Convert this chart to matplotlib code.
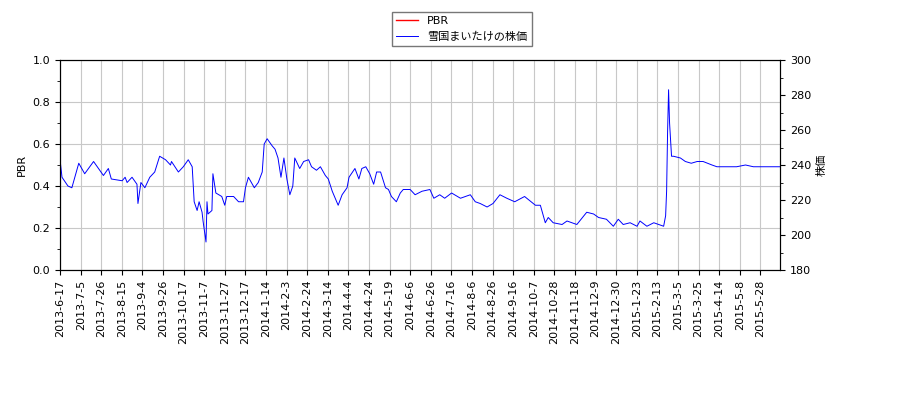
import matplotlib
matplotlib.use("Agg")
import matplotlib.pyplot as plt
import numpy as np
import datetime as dt

plt.rcParams['font.family'] = ['DejaVu Sans', 'Noto Sans CJK JP']

start = dt.date(2013, 6, 17)
day_offsets = [0,2,8,12,19,25,34,44,49,52,63,66,68,73,78,79,82,86,91,96,101,107,112,113,120,125,130,134,136,139,141,144,145,148,149,150,154,155,158,164,167,169,176,181,186,188,191,197,201,205,207,210,215,218,221,224,227,230,233,236,238,243,247,252,255,260,264,269,272,276,282,286,291,293,299,303,306,310,314,318,321,325,330,333,336,341,345,348,355,360,367,
               375,379,385,390,397,406,416,421,426,433,439,446,453,461,471,482,487,490,492,495,500,509,514,524,534,541,546,554,561,566,571,578,585,588,595,602,612,614,615,616,617,618,620,622,629,634,640,646,652,661,666,678,686,695,703,730]
price = [243,233,228,227,241,235,242,234,238,232,231,233,230,233,229,218,230,227,233,236,245,243,240,242,236,239,243,239,219,214,219,213,208,196,219,212,214,235,224,222,217,222,222,219,219,227,233,227,230,236,252,255,251,249,244,233,244,232,223,228,244,238,242,243,239,237,239,234,232,225,217,223,227,233,238,232,238,239,235,229,236,236,227,226,222,219,224,226,226,223,225,
         226,221,223,221,224,221,223,219,218,216,218,223,221,219,222,217,217,211,207,210,207,206,208,206,213,212,210,209,205,209,206,207,205,208,205,207,205,211,225,259,283,264,245,245,244,242,241,242,242,240,239,239,239,240,239,239]
pbr = []
tick_labels = ["2013-6-17","2013-7-5","2013-7-26","2013-8-15","2013-9-4","2013-9-26","2013-10-17","2013-11-7","2013-11-27","2013-12-17","2014-1-14","2014-2-3","2014-2-24","2014-3-14","2014-4-4","2014-4-24","2014-5-19","2014-6-6","2014-6-26","2014-7-16","2014-8-6","2014-8-26","2014-9-16","2014-10-7","2014-10-28","2014-11-18","2014-12-9","2014-12-30","2015-1-23","2015-2-13","2015-3-5","2015-3-25","2015-4-14","2015-5-8","2015-5-28"]

# x axis in pixel-linear day units (trading-day spacing -> ticks evenly spaced)
tick_pos = np.linspace(0, 710, len(tick_labels))

fig = plt.figure(figsize=(9, 4), dpi=100)
ax = fig.add_axes([0.0667, 0.325, 0.8, 0.525])
ax2 = ax.twinx()
l1, = ax.plot([], [], color='red', lw=1, label='PBR')
l2, = ax2.plot(day_offsets, price, color='blue', lw=0.7, label='雪国まいたけの株価')

ax.set_ylim(0, 1.0)
ax.set_yticks(np.arange(0, 1.01, 0.2))
ax.set_yticks(np.arange(0, 1.01, 0.1), minor=True)
ax2.set_ylim(180, 300)
ax2.set_yticks(np.arange(180, 301, 20))
ax2.set_yticks(np.arange(180, 301, 10), minor=True)
ax.set_xlim(0, 730)
ax.set_xticks(tick_pos)
ax.set_xticklabels(tick_labels, rotation=90, fontsize=8)
ax.tick_params(axis='y', labelsize=8)
ax2.tick_params(axis='y', labelsize=8)
ax.grid(True, color='#c8c8c8', lw=0.8)
ax.set_ylabel('PBR', fontsize=8)
ax2.set_ylabel('株価', fontsize=8)
fig.legend([l1, l2], ['PBR', '雪国まいたけの株価'], loc='upper center',
           bbox_to_anchor=(0.513, 0.985), fontsize=8, fancybox=False, edgecolor='#555555')
fig.savefig('out.png', dpi=100)
